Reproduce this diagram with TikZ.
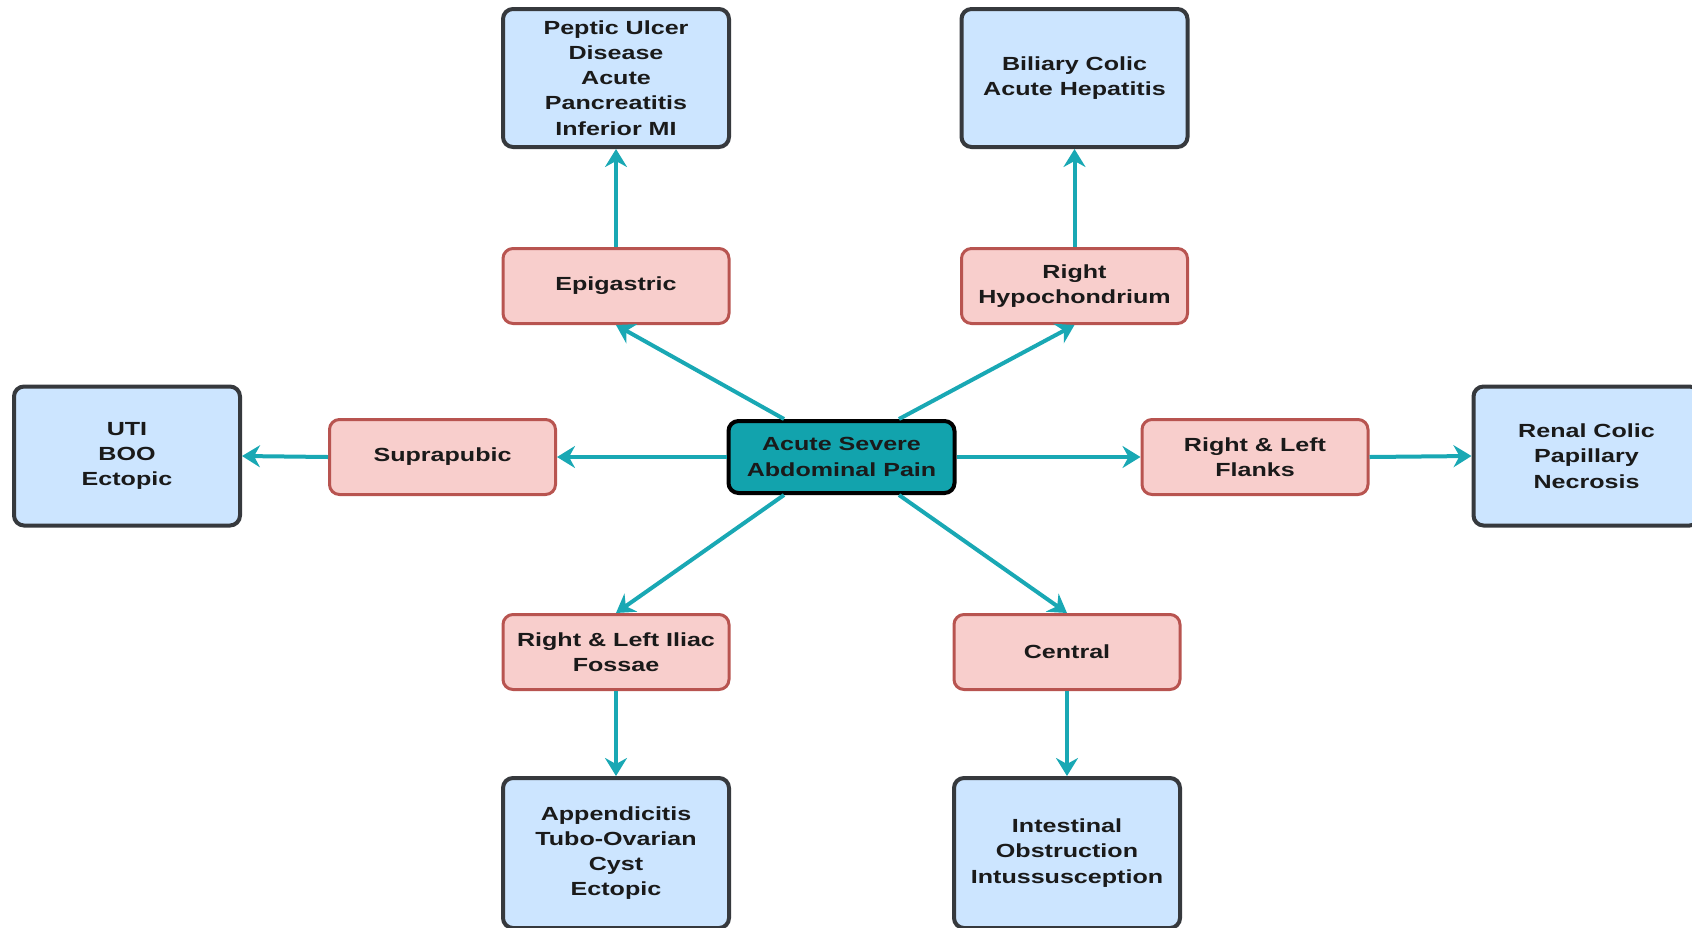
\documentclass[tikz,border=0pt]{standalone}
\usepackage{fontspec}
\setmainfont{Liberation Sans}[FakeStretch=1.32]
\usepackage{tikz}
\usetikzlibrary{arrows.meta,calc,positioning}
\definecolor{PainFill}{RGB}{18,163,173}
\definecolor{SiteFill}{RGB}{248,206,204}
\definecolor{SiteLine}{RGB}{184,84,80}
\definecolor{CauseFill}{RGB}{204,229,255}
\definecolor{CauseLine}{RGB}{54,57,61}
\definecolor{LinkCol}{RGB}{25,168,180}
\definecolor{TextCol}{RGB}{26,26,26}

\begin{document}
\begin{tikzpicture}[x=0.5pt,y=-0.5pt]
  \def\LCOL{LinkCol}
  \tikzstyle{box} = [rounded corners=5pt, align=center, text=TextCol, inner sep=2pt,
                     font=\fontsize{9.5}{12.6}\selectfont\bfseries, minimum width=113pt]
  \tikzstyle{pain} = [box, draw=black, fill=PainFill, line width=2pt, minimum height=36pt]
  \tikzstyle{site} = [box, draw=SiteLine, fill=SiteFill, line width=1.5pt, minimum height=37.5pt]
  \tikzstyle{cause} = [box, draw=CauseLine, fill=CauseFill, line width=2pt]
  \tikzstyle{link} = [draw=\LCOL, line width=2pt, -{Stealth[length=9pt,width=11pt,inset=3pt]}]

  \useasboundingbox (0,0) rectangle (1692,927);

  \node[pain] (P) at (841.5,457) {Acute Severe\\Abdominal Pain};

  % regions
  \node[site] (EPI) at (616,286) {Epigastric};
  \node[site] (RHC) at (1074.5,286) {Right\\Hypochondrium};
  \node[site] (SUP) at (442.5,457) {Suprapubic};
  \node[site] (FLK) at (1255,457) {Right \& Left\\Flanks};
  \node[site] (ILF) at (616,652) {Right \& Left Iliac\\Fossae};
  \node[site] (CEN) at (1067,652) {Central};

  % causes
  \node[cause,minimum height=69pt] (C1) at (616,78) {Peptic Ulcer\\Disease\\Acute\\Pancreatitis\\Inferior MI};
  \node[cause,minimum height=69pt] (C2) at (1074.5,78) {Biliary Colic\\Acute Hepatitis};
  \node[cause,minimum height=69.5pt] (C3) at (127,456) {UTI\\BOO\\Ectopic};
  \node[cause,minimum height=69.5pt] (C4) at (1586.5,456) {Renal Colic\\Papillary\\Necrosis};
  \node[cause,minimum height=75pt] (C5) at (616,853) {Appendicitis\\Tubo-Ovarian\\Cyst\\Ectopic};
  \node[cause,minimum height=75pt] (C6) at (1067,853) {Intestinal\\Obstruction\\Intussusception};

  \draw[link] ($(P.north west)!0.25!(P.north east)$) -- (EPI.south);
  \draw[link] ($(P.north west)!0.75!(P.north east)$) -- (RHC.south);
  \draw[link] ($(P.south west)!0.25!(P.south east)$) -- (ILF.north);
  \draw[link] ($(P.south west)!0.75!(P.south east)$) -- (CEN.north);
  \draw[link] (P.west) -- (SUP.east);
  \draw[link] (P.east) -- (FLK.west);

  \draw[link] (EPI.north) -- (C1.south);
  \draw[link] (RHC.north) -- (C2.south);
  \draw[link] (SUP.west) -- (C3.east);
  \draw[link] (FLK.east) -- (C4.west);
  \draw[link] (ILF.south) -- (C5.north);
  \draw[link] (CEN.south) -- (C6.north);
\end{tikzpicture}
\end{document}
